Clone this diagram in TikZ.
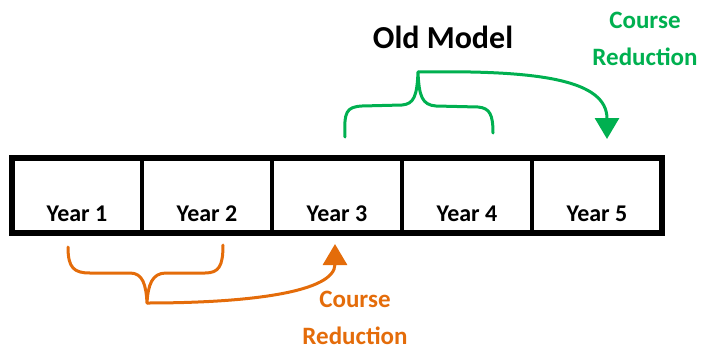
\documentclass[tikz,border=0pt]{standalone}
\usepackage{fontspec}
\setmainfont{Carlito}
\usetikzlibrary{arrows.meta,positioning}
\definecolor{modelgreen}{RGB}{0,176,80}
\definecolor{cutorange}{RGB}{228,108,10}
\tikzstyle{cell}=[
  draw,
  line width=4pt,
  minimum width=130pt,
  minimum height=75pt,
  inner sep=0pt,
  outer sep=0pt,
  text height=56pt,
  text depth=4pt,
  font={\bfseries\fontsize{24}{28}\selectfont},
]
\tikzstyle{brace}=[
  line width=3pt,
  line cap=round,
  line join=round,
]
\tikzstyle{note}=[
  align=center,
  inner sep=0pt,
  font={\bfseries\fontsize{25}{37}\selectfont},
]
\tikzset{
  node distance=130pt,
  >={Triangle[length=21pt,width=24pt]},
}
\begin{document}
\begin{tikzpicture}[x=1pt,y=-1pt]
      \useasboundingbox (0,0) rectangle (705,354);
      \node [cell] (Y1) at (77,195) {Year 1};
      \node [cell, right of=Y1] (Y2) {Year 2};
      \node [cell, right of=Y2] (Y3) {Year 3};
      \node [cell, right of=Y3] (Y4) {Year 4};
      \node [cell, right of=Y4] (Y5) {Year 5};
      \draw [line width=6pt] (Y1.north west) rectangle (Y5.south east);
      \node [note, font={\bfseries\fontsize{32}{36}\selectfont}] (OLD) at (443,37) {Old Model};
      \node [note, modelgreen] (GCUT) at (645,39) {Course\\Reduction};
      \node [note, cutorange] (OCUT) at (355,318) {Course\\Reduction};
      % green brace over years 3 and 4
      \coordinate (GTIP) at (418,72);
      \coordinate (GEND) at (607,139);
      \draw [brace, modelgreen] (345,137) .. controls (344,112) and (346,107) .. (362,106)
        -- (402,105) .. controls (414,104) and (417,96) .. (GTIP)
        .. controls (419,96) and (422,105) .. (436,106)
        -- (478,107) .. controls (490,108) and (493,115) .. (493,133);
      \draw [brace, modelgreen, line cap=butt, ->] (GTIP) .. controls (540,70) and (607,80) .. (GEND);
      % orange brace under years 1 and 2
      \coordinate (OTIP) at (147,303);
      \coordinate (OEND) at (335,244);
      \draw [brace, cutorange] (68,247) .. controls (68,268) and (74,273) .. (90,273)
        -- (130,273) .. controls (143,273) and (146,285) .. (OTIP)
        .. controls (148,285) and (152,273) .. (166,273)
        -- (205,273) .. controls (219,273) and (223,266) .. (223,245);
      \draw [brace, cutorange, line cap=butt, ->] (OTIP) .. controls (250,303) and (335,292) .. (OEND);
    \end{tikzpicture}
\end{document}
